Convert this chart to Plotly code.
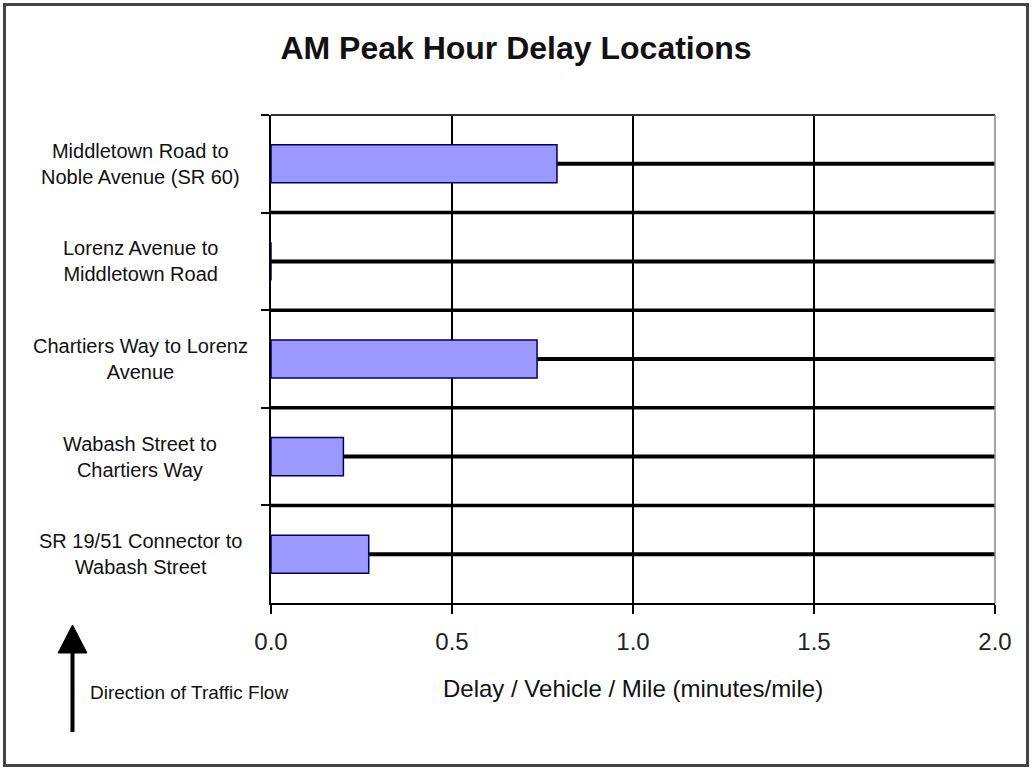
import plotly.graph_objects as go

# ---- data (top to bottom as in the chart) ----
categories = [
    "Middletown Road to<br>Noble Avenue (SR 60)",
    "Lorenz Avenue to<br>Middletown Road",
    "Chartiers Way to Lorenz<br>Avenue",
    "Wabash Street to<br>Chartiers Way",
    "SR 19/51 Connector to<br>Wabash Street",
]
delay_values = [0.79, 0.0, 0.735, 0.20, 0.27]
x_ticks = [0.0, 0.5, 1.0, 1.5, 2.0]
x_tick_labels = ["0.0", "0.5", "1.0", "1.5", "2.0"]

title_text = "AM Peak Hour Delay Locations"
x_title = "Delay / Vehicle / Mile (minutes/mile)"
flow_text = "Direction of Traffic Flow"

# ---- layout geometry (pixels) ----
W, H = 1032, 769
L, R, T, B = 271, 995, 115, 603
FONT = "Liberation Sans, Arial, sans-serif"


def px(xp):
    return (xp - L) / (R - L)


def py(yp):
    return (B - yp) / (B - T)


fig = go.Figure()
fig.add_trace(go.Bar(
    y=categories, x=delay_values, orientation="h", width=0.39,
    marker=dict(color="#9999FF", line=dict(color="#000060", width=1.5)),
    hoverinfo="x+y",
))

n = len(categories)
shapes = []
# thick lines at category centres and inner boundaries
for i in range(n):
    shapes.append(dict(type="line", xref="paper", yref="y", x0=0, x1=1, y0=i, y1=i,
                       line=dict(color="black", width=4), layer="below"))
for i in range(1, n):
    shapes.append(dict(type="line", xref="paper", yref="y", x0=0, x1=1, y0=i - 0.5, y1=i - 0.5,
                       line=dict(color="black", width=3.5), layer="below"))
# vertical grid lines
for t in x_ticks[1:-1]:
    shapes.append(dict(type="line", xref="x", yref="paper", x0=t, x1=t, y0=0, y1=1,
                       line=dict(color="black", width=2), layer="below"))
# plot border top and right
shapes.append(dict(type="line", xref="paper", yref="paper", x0=0, x1=1, y0=1, y1=1,
                   line=dict(color="#333", width=2)))
shapes.append(dict(type="line", xref="paper", yref="paper", x0=1, x1=1, y0=0, y1=1,
                   line=dict(color="#888", width=1.5)))
# outer frame
shapes.append(dict(type="rect", xref="paper", yref="paper",
                   x0=px(4.5), x1=px(1027.5), y0=py(765.5), y1=py(4.5),
                   line=dict(color="#444", width=3)))
# traffic direction arrow
shapes.append(dict(type="line", xref="paper", yref="paper",
                   x0=px(72.5), x1=px(72.5), y0=py(732), y1=py(648),
                   line=dict(color="black", width=4)))
shapes.append(dict(type="path", xref="paper", yref="paper",
                   path=f"M {px(58)} {py(653)} L {px(87)} {py(653)} L {px(72.5)} {py(625)} Z",
                   fillcolor="black", line=dict(color="black", width=1)))

annotations = []
for c in categories:
    annotations.append(dict(text=c, xref="paper", yref="y", x=px(140), y=c,
                            xanchor="center", yanchor="middle", align="center",
                            showarrow=False, font=dict(family=FONT, size=20, color="#111")))
annotations.append(dict(text=x_title, xref="paper", yref="paper", x=0.5, y=py(688),
                        xanchor="center", yanchor="middle", showarrow=False,
                        font=dict(family=FONT, size=24, color="#111")))
annotations.append(dict(text=flow_text, xref="paper", yref="paper", x=px(88), y=py(692),
                        xanchor="left", yanchor="middle", showarrow=False,
                        font=dict(family=FONT, size=19, color="#111")))

fig.update_layout(
    width=W, height=H,
    margin=dict(l=L, r=W - R, t=T, b=H - B, autoexpand=False),
    paper_bgcolor="white", plot_bgcolor="white",
    showlegend=False,
    title=dict(text="<b>" + title_text + "</b>", x=0.5, xanchor="center",
               y=1 - 48 / H, yanchor="middle", yref="container",
               font=dict(family=FONT, size=32, color="#111")),
    xaxis=dict(range=[0, 2], tickvals=x_ticks, ticktext=x_tick_labels,
               showgrid=False, zeroline=False, showline=True, linecolor="black", linewidth=2,
               ticks="outside", ticklen=9, tickwidth=2, tickcolor="black",
               ticklabelstandoff=7,
               tickfont=dict(family=FONT, size=24, color="#222")),
    yaxis=dict(type="category", categoryorder="array", categoryarray=categories,
               range=[n - 0.5, -0.5], tickson="boundaries",
               showgrid=False, zeroline=False, showline=True, linecolor="black", linewidth=2,
               ticks="outside", ticklen=8, tickwidth=2, tickcolor="black",
               showticklabels=False),
    shapes=shapes, annotations=annotations,
    bargap=0.6,
)

fig.write_html(
    "out.html",
    config={"displayModeBar": False},
    post_script="document.body.style.margin='0';document.body.style.overflow='hidden';",
)
